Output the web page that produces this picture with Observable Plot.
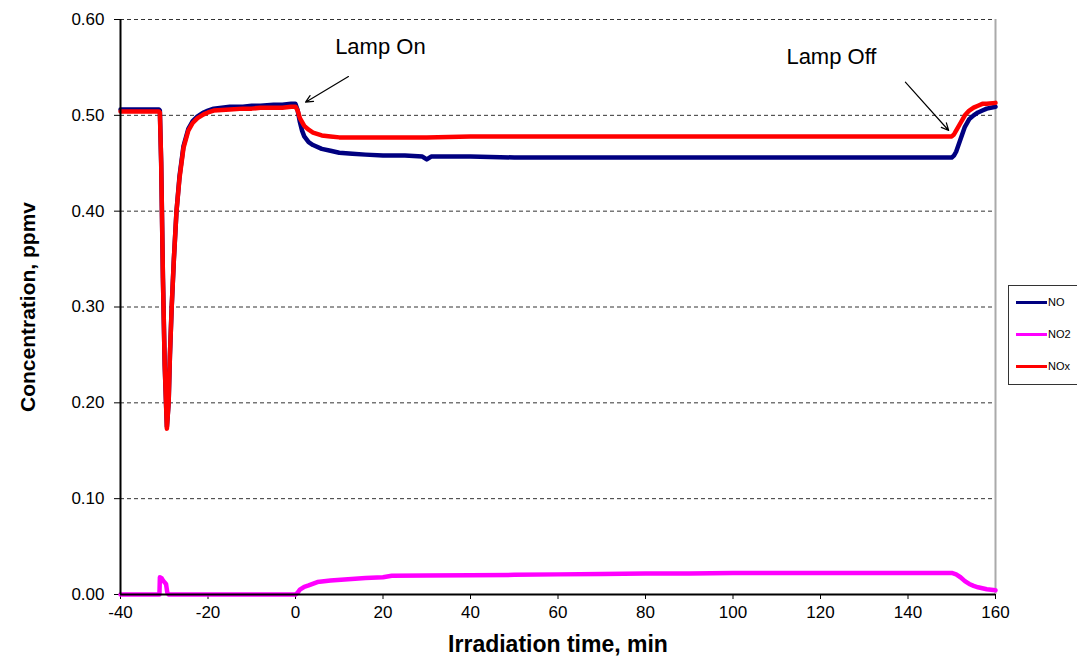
<!DOCTYPE html>
<html>
<head>
<meta charset="utf-8">
<script src="https://cdn.jsdelivr.net/npm/d3@7"></script>
<script src="https://cdn.jsdelivr.net/npm/@observablehq/plot@0.6"></script>
<style>
  html, body { margin: 0; padding: 0; background: #fff; }
  #wrap { position: relative; width: 1077px; height: 656px; overflow: hidden; font-family: "Liberation Sans", Arial, sans-serif; }
  #legend { position: absolute; left: 1008px; top: 285px; width: 120px; height: 98px; border: 1px solid #333; background: #fff; }
  .row { position: absolute; left: 7px; display: flex; align-items: center; font-size: 11px; color: #000; }
  .sw { width: 31px; height: 3px; margin-right: 1px; }
</style>
</head>
<body>
<div id="wrap"></div>
<script>
// ---- data ----
const seriesNames = ["NO", "NO2", "NOx"];
const seriesColors = ["#000080", "#FF00FF", "#FF0000"];

const noT = [-40, -35, -31.2, -31.0, -30.7, -30.3, -29.9, -29.4, -29.0, -28.7, -28.3, -27.8, -27.2, -26.5, -25.6, -24.5, -23.5, -22.4, -21, -20, -18.7, -15, -12, -10, -8, -5, -3, -1, 0, 0.5, 1, 1.5, 2, 3, 4, 6, 8, 10, 13, 16, 20, 25, 29, 30, 31, 35, 40, 50, 60, 70, 80, 90, 100, 110, 120, 130, 140, 145, 150, 150.5, 151, 152, 153, 154, 155, 156, 157, 158, 160];
const noV = [0.506, 0.506, 0.506, 0.505, 0.45, 0.33, 0.24, 0.175, 0.2, 0.25, 0.3, 0.35, 0.4, 0.437, 0.468, 0.486, 0.494, 0.499, 0.503, 0.505, 0.507, 0.509, 0.509, 0.510, 0.510, 0.511, 0.511, 0.512, 0.512, 0.505, 0.493, 0.484, 0.478, 0.472, 0.469, 0.465, 0.463, 0.461, 0.460, 0.459, 0.458, 0.458, 0.457, 0.454, 0.457, 0.457, 0.457, 0.456, 0.456, 0.456, 0.456, 0.456, 0.456, 0.456, 0.456, 0.456, 0.456, 0.456, 0.456, 0.458, 0.462, 0.475, 0.488, 0.496, 0.500, 0.503, 0.505, 0.507, 0.509];

const no2T = [-40, -31.1, -31.0, -30.6, -30.2, -29.6, -29.3, -29.0, -20, -10, 0, 0.5, 1, 2, 3, 5, 8, 12, 16, 20, 22, 30, 40, 50, 60, 70, 80, 90, 100, 120, 140, 150, 151, 152, 153, 154, 155, 156, 157, 158, 160];
const no2V = [0, 0, 0.018, 0.017, 0.014, 0.011, 0.002, 0, 0, 0, 0, 0.002, 0.005, 0.008, 0.0095, 0.013, 0.0145, 0.016, 0.0172, 0.018, 0.0195, 0.0198, 0.020, 0.0205, 0.021, 0.0215, 0.022, 0.022, 0.0225, 0.0225, 0.0225, 0.0225, 0.021, 0.018, 0.014, 0.011, 0.009, 0.0075, 0.0065, 0.0055, 0.0045];

const noxT = [-40, -35, -31.2, -31.0, -30.7, -30.3, -29.9, -29.4, -29.0, -28.7, -28.3, -27.8, -27.2, -26.5, -25.6, -24.5, -23.5, -22.4, -21, -20, -18.7, -15, -12, -10, -8, -5, -3, -1, 0, 0.5, 1, 2, 3, 4, 6, 8, 10, 20, 30, 40, 60, 80, 100, 120, 140, 150, 150.5, 151, 152, 153, 154, 155, 156, 157, 158, 160];
const noxV = [0.504, 0.504, 0.504, 0.503, 0.45, 0.33, 0.24, 0.173, 0.2, 0.25, 0.3, 0.35, 0.4, 0.435, 0.466, 0.484, 0.492, 0.497, 0.501, 0.503, 0.505, 0.506, 0.507, 0.507, 0.508, 0.508, 0.508, 0.509, 0.509, 0.505, 0.497, 0.489, 0.485, 0.482, 0.479, 0.478, 0.477, 0.477, 0.477, 0.478, 0.478, 0.478, 0.478, 0.478, 0.478, 0.478, 0.480, 0.484, 0.492, 0.500, 0.505, 0.508, 0.510, 0.512, 0.512, 0.513];

const xTicks = [-40, -20, 0, 20, 40, 60, 80, 100, 120, 140, 160];
const yTicks = [0, 0.1, 0.2, 0.3, 0.4, 0.5, 0.6];

const noteLabels = ["Lamp On", "Lamp Off"];
const noteX = [19.4, 122.5];
const noteY = [0.571, 0.561];
const arrowX1 = [12.1, 139.4];
const arrowY1 = [0.5405, 0.5346];
const arrowX2 = [2.3, 149.3];
const arrowY2 = [0.5137, 0.4842];

// ---- build tables ----
const toRows = (ts, vs, s) => ts.map((t, i) => ({t, v: vs[i], s}));
const rowsNO = toRows(noT, noV, "NO");
const rowsNO2 = toRows(no2T, no2V, "NO2");
const rowsNOx = toRows(noxT, noxV, "NOx");
const notes = noteLabels.map((l, i) => ({l, x: noteX[i], y: noteY[i], x1: arrowX1[i], y1: arrowY1[i], x2: arrowX2[i], y2: arrowY2[i]}));

const font = "'Liberation Sans', Arial, sans-serif";

const chart = Plot.plot({
  width: 1077,
  height: 656,
  marginLeft: 120,
  marginRight: 82,
  marginTop: 19,
  marginBottom: 62,
  style: {fontFamily: font, background: "#fff", color: "#000"},
  x: {domain: [-40, 160]},
  y: {domain: [0, 0.6]},
  marks: [
    Plot.ruleY(yTicks.filter(d => d > 0), {stroke: "#333", strokeWidth: 1, strokeDasharray: "4,3"}),
    Plot.ruleX([160], {y1: 0, y2: 0.6, stroke: "#aaa", strokeWidth: 2}),
    Plot.axisX({ticks: xTicks, tickSize: 5, tickPadding: 6, fontSize: 17, tickFormat: d => d,
      label: "Irradiation time, min", labelAnchor: "center", labelArrow: "none", labelOffset: 57}),
    Plot.axisY({ticks: yTicks, tickSize: 6, tickPadding: 10, fontSize: 17, tickFormat: d3.format(".2f"),
      label: "Concentration, ppmv", labelAnchor: "center", labelArrow: "none", labelOffset: 100}),
    Plot.lineY(rowsNO, {x: "t", y: "v", stroke: seriesColors[0], strokeWidth: 4.5}),
    Plot.lineY(rowsNO2, {x: "t", y: "v", stroke: seriesColors[1], strokeWidth: 4.5}),
    Plot.lineY(rowsNOx, {x: "t", y: "v", stroke: seriesColors[2], strokeWidth: 4.5}),
    Plot.ruleX([-40], {y1: 0, y2: 0.6, stroke: "#000", strokeWidth: 2}),
    Plot.ruleY([0], {stroke: "#000", strokeWidth: 2}),
    Plot.arrow(notes, {x1: "x1", y1: "y1", x2: "x2", y2: "y2", stroke: "#000", strokeWidth: 1.2, headLength: 10, headAngle: 50}),
    Plot.text(notes, {x: "x", y: "y", text: "l", fontSize: 22, fill: "#000"})
  ]
});

// bold axis labels
d3.select(chart).selectAll("g[aria-label='x-axis label'] text")
  .style("font-weight", "bold").style("font-size", "23px");
d3.select(chart).selectAll("g[aria-label='y-axis label'] text")
  .style("font-weight", "bold").style("font-size", "21px");

const wrap = document.getElementById("wrap");
wrap.appendChild(chart);

// legend
const legend = document.createElement("div");
legend.id = "legend";
const rowTops = [10, 42, 74];
seriesNames.forEach((n, i) => {
  const r = document.createElement("div");
  r.className = "row";
  r.style.top = rowTops[i] + "px";
  const sw = document.createElement("div");
  sw.className = "sw";
  sw.style.background = seriesColors[i];
  const tx = document.createElement("span");
  tx.textContent = n;
  r.appendChild(sw); r.appendChild(tx);
  legend.appendChild(r);
});
wrap.appendChild(legend);
</script>
</body>
</html>
